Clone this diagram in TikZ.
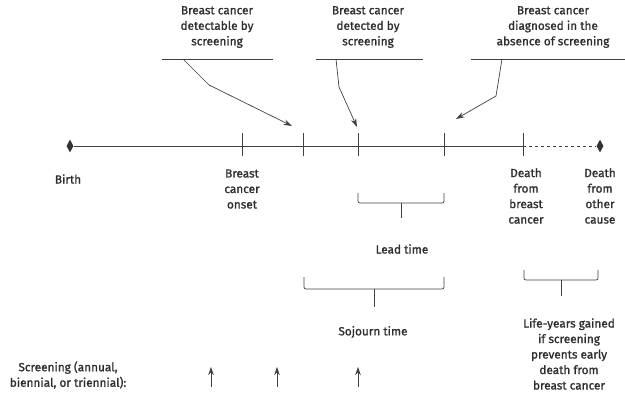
\documentclass[tikz,border=0pt]{standalone}
\usepackage{fontspec}
\setmainfont{Fira Sans}
\newfontfamily\lblfont{Fira Sans}[FakeBold=1.2]
\usetikzlibrary{positioning, arrows.meta, shapes.geometric}

\begin{document}
\begin{tikzpicture}[x=1pt, y=-1pt,
    lbl/.style={align=center, font=\lblfont\fontsize{11.8}{15.5}\selectfont, text=black!82, inner sep=0pt},
    ln/.style={black!75, line width=0.7pt},
    marker/.style={diamond, fill=black!80, inner sep=0pt, minimum width=7pt, minimum height=13pt},
    ptr/.style={ln, -{Stealth[length=8.5pt, width=5.5pt]}}]
    \useasboundingbox (0,0) rectangle (625,397);
    % Timeline with its end markers
    \node[marker] (birth) at (70,146) {};
    \node[marker] (other) at (600,146) {};
    \foreach \n/\x in {onset/242, detectable/303, detected/358, diagnosed/444, death/523}
        \coordinate (\n) at (\x,146);
    \draw[ln] (birth) -- (death);
    \draw[ln, dashed] (death) -- (other);
    \foreach \n in {onset, detectable, detected, diagnosed, death}
        \draw[ln] (\n) ++(0,-13) -- ++(0,23);

    % Labels above the line
    \node[lbl] (tdetectable) at (217,27) {Breast cancer\\detectable by\\screening};
    \node[lbl] (tdetected) at (368,27) {Breast cancer\\detected by\\screening};
    \node[lbl] (tdiagnosed) at (553,27) {Breast cancer\\diagnosed in the\\absence of screening};
    \draw[ln] (162,59) -- (273,59);
    \draw[ln] (316,59) -- (423,59);
    \draw[ln] (471,59) -- (625,59);

    % Pointers down to the ticks
    \coordinate (pdetectable) at (292,126);
    \coordinate (pdetected) at (357,127);
    \coordinate (pdiagnosed) at (456,119);
    \draw[ptr] (183,59) -- (209,85) -- (pdetectable);
    \draw[ptr] (336,59) -- (339,87) -- (pdetected);
    \draw[ptr] (502,59) -- (496,96) -- (pdiagnosed);

    % Labels below the line
    \node[lbl] (lbirth) at (68,179) {Birth};
    \node[lbl] (lonset) at (242,189) {Breast\\cancer\\onset};
    \node[lbl] (ldeath) at (526,196) {Death\\from\\breast\\cancer};
    \node[lbl] (lother) at (600,196) {Death\\from\\other\\cause};

    % Braces
    \foreach \l/\r/\t/\h/\d in {358/444/193/10/15, 304/444/277/12/18, 524/598/270/10/16} {
        \draw[ln, rounded corners=2pt] (\l,\t) -- (\l,\t+\h) -- (\r,\t+\h) -- (\r,\t);
        \draw[ln] ({(\l+\r)/2},\t+\h) -- ++(0,\d);
    }
    \node[lbl] (lead) at (402,249) {Lead time};
    \node[lbl] (sojourn) at (373,332) {Sojourn time};
    \node[lbl] (gained) at (569,354) {Life-years gained\\if screening\\prevents early\\death from\\breast cancer};

    % Screening rounds
    \node[lbl] (screening) at (68,375) {Screening (annual,\\biennial, or triennial):};
    \foreach \x in {211, 277, 358}
        \draw[ptr, -{Stealth[length=8pt, width=5.5pt]}] (\x,387) -- (\x,367);
\end{tikzpicture}
\end{document}
